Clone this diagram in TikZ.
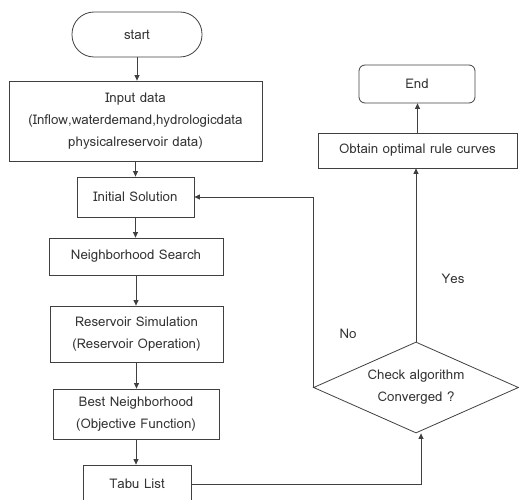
\documentclass[tikz,border=0pt]{standalone}
\usepackage{fontspec}
\newfontfamily\thaifont[Script=Thai]{Loma}
\usetikzlibrary{arrows.meta,shapes.geometric}

\begin{document}
\begin{tikzpicture}[x=1pt,y=-1pt,
    font=\thaifont\fontsize{13.3}{22}\selectfont,
    box/.style={draw=black!75, line width=0.8pt, rectangle, inner sep=0pt, align=center, text=black!80},
    pill/.style={box, rounded corners=22pt},
    endbox/.style={box, rounded corners=6pt},
    decision/.style={box, diamond},
    arr/.style={draw=black!75, line width=0.8pt, -{Triangle[length=5.5pt,width=5pt]}},
    lbl/.style={text=black!80, align=center}]
  \useasboundingbox (0,0) rectangle (519,500);
  % main column
  \node[pill, minimum width=130pt, minimum height=45pt] (start) at (137,34.5) {start};
  \node[box, minimum width=253pt, minimum height=80pt] (input) at (135.5,121)
    {Input data\\(Inflow,waterdemand,hydrologicdata\\physicalreservoir data)};
  \node[box, minimum width=117pt, minimum height=40pt] (init) at (135.5,197) {Initial Solution};
  \node[box, minimum width=174pt, minimum height=37pt] (search) at (136,256.5) {Neighborhood Search};
  \node[box, minimum width=173pt, minimum height=56pt] (sim) at (136.5,334)
    {Reservoir Simulation\\(Reservoir Operation)};
  \node[box, minimum width=166pt, minimum height=50pt] (best) at (136,414)
    {Best Neighborhood\\(Objective Function)};
  \node[box, minimum width=108pt, minimum height=38pt] (tabu) at (137,484) {Tabu List};
  % right column
  \node[decision, minimum width=205pt, minimum height=91pt] (check) at (416,387.5) {};
  \node[lbl] (checktxt) at (check) {Check algorithm\\Converged ?};
  \node[box, minimum width=199pt, minimum height=35pt] (obtain) at (417.5,150.5) {Obtain optimal rule curves};
  \node[endbox, minimum width=116pt, minimum height=38pt] (end) at (417,84) {End};
  \node[lbl] (no) at (348,334) {No};
  \node[lbl] (yes) at (453,279) {Yes};

  \draw[arr] (start.south) -- (start.south |- input.north);
  \draw[arr] (input.south) -- (input.south |- init.north);
  \draw[arr] (init.south) -- (init.south |- search.north);
  \draw[arr] (search.south) -- (search.south |- sim.north);
  \draw[arr] (sim.south) -- (sim.south |- best.north);
  \draw[arr] (best.south) -- (best.south |- tabu.north);
  \draw[arr] (tabu.east) -| ([xshift=5pt]check.south);
  \draw[arr] (check.west) |- (init.east);
  \draw[arr] (check.north) -- (check.north |- obtain.south);
  \draw[arr] (obtain.north) -- (obtain.north |- end.south);
\end{tikzpicture}
\end{document}
